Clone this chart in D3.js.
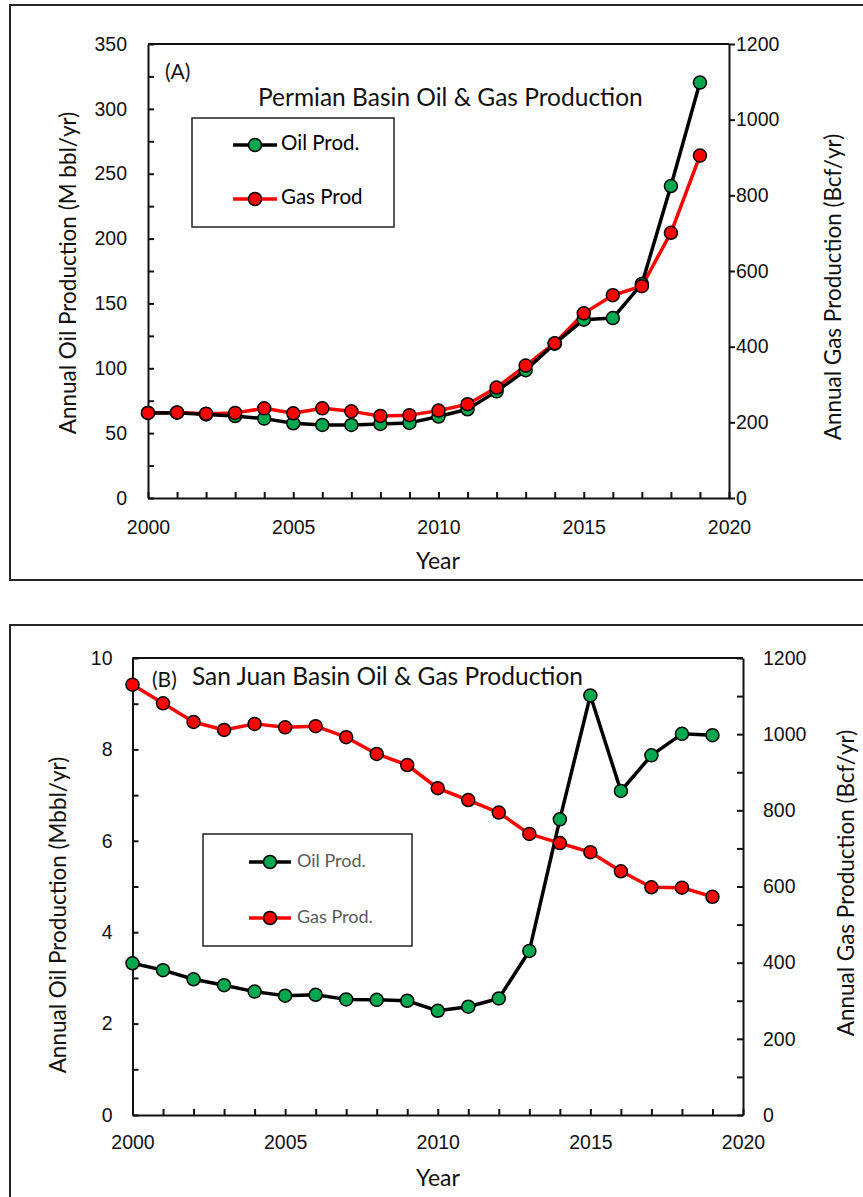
<!DOCTYPE html>
<html>
<head>
<meta charset="utf-8">
<script src="https://cdn.jsdelivr.net/npm/d3@7"></script>
<style>
  html, body { margin: 0; padding: 0; background: #fff; }
  svg { display: block; font-family: Lato, "Open Sans", sans-serif; }
</style>
</head>
<body>
<svg id="chart" width="863" height="1197"></svg>
<script>
// data
const years = [2000, 2001, 2002, 2003, 2004, 2005, 2006, 2007, 2008, 2009,
               2010, 2011, 2012, 2013, 2014, 2015, 2016, 2017, 2018, 2019];

const permianOil = [65.6, 65.8, 64.4, 63.2, 61.2, 57.6, 56.3, 56.3, 57.1, 57.9,
                    62.8, 68.4, 82.2, 98.5, 119, 137.5, 138.7, 165, 240.5, 320.3];
const permianGas = [225, 226, 223, 225, 237, 224, 237, 229, 217, 219,
                    231, 248, 292, 350, 409, 488, 536, 560, 701, 905];

const sanJuanOil = [3.32, 3.17, 2.97, 2.84, 2.70, 2.61, 2.63, 2.53, 2.52, 2.50,
                    2.28, 2.37, 2.55, 3.59, 6.47, 9.18, 7.09, 7.87, 8.34, 8.31];
const sanJuanGas = [1130, 1081, 1032, 1011, 1027, 1018, 1021, 992, 948, 919,
                    858, 827, 794, 738, 714, 690, 640, 598, 597, 573];

const yearTicks = [2000, 2005, 2010, 2015, 2020];
const permianOilTicks = [0, 50, 100, 150, 200, 250, 300, 350];
const permianOilMinor = [0, 25, 50, 75, 100, 125, 150, 175, 200, 225, 250, 275, 300, 325, 350];
const permianGasTicks = [0, 200, 400, 600, 800, 1000, 1200];
const sanJuanOilTicks = [0, 2, 4, 6, 8, 10];
const sanJuanOilMinor = [0, 1, 2, 3, 4, 5, 6, 7, 8, 9, 10];
const sanJuanGasTicks = [0, 200, 400, 600, 800, 1000, 1200];
const sanJuanGasMinor = [0, 100, 200, 300, 400, 500, 600, 700, 800, 900, 1000, 1100, 1200];

const GREEN = "#00a84f";
const RED = "#ff0000";
const INK = "#111";

const svg = d3.select("#chart");

// outer frames (right / bottom edges run off the page)
svg.append("rect").attr("x", 10).attr("y", 5).attr("width", 900).attr("height", 575)
  .attr("fill", "none").attr("stroke", "#262626").attr("stroke-width", 2);
svg.append("rect").attr("x", 10).attr("y", 625).attr("width", 900).attr("height", 700)
  .attr("fill", "none").attr("stroke", "#262626").attr("stroke-width", 2);

function styleAxis(g) {
  g.selectAll("path, line").attr("stroke", INK).attr("stroke-width", 2);
  g.selectAll("text").attr("fill", INK).style("font-size", "19.5px");
}

function panel(p) {
  const x = d3.scaleLinear().domain([2000, 2020]).range([p.left, p.right]);
  const yL = d3.scaleLinear().domain(p.oilDomain).range([p.bottom, p.top]);
  const yR = d3.scaleLinear().domain(p.gasDomain).range([p.bottom, p.top]);
  const fmt = d3.format("d");

  // plot box top edge
  svg.append("line")
    .attr("x1", p.left).attr("x2", p.right).attr("y1", p.top).attr("y2", p.top)
    .attr("stroke", INK).attr("stroke-width", 2);

  // x axis: inward ticks every year, labels every 5
  svg.append("g").attr("transform", `translate(0,${p.bottom})`)
    .call(d3.axisBottom(x).tickValues(years.concat([2020])).tickSize(-6).tickFormat("").tickSizeOuter(0))
    .call(styleAxis);
  svg.append("g").attr("transform", `translate(0,${p.bottom})`)
    .call(d3.axisBottom(x).tickValues(yearTicks).tickSize(0).tickPadding(p.xPad).tickFormat(fmt))
    .call(g => g.select(".domain").remove())
    .call(styleAxis);

  // left axis
  svg.append("g").attr("transform", `translate(${p.left},0)`)
    .call(d3.axisLeft(yL).tickValues(p.oilMinor).tickSize(-6).tickFormat("").tickSizeOuter(0))
    .call(styleAxis);
  svg.append("g").attr("transform", `translate(${p.left},0)`)
    .call(d3.axisLeft(yL).tickValues(p.oilTicks).tickSize(0).tickPadding(p.lPad).tickFormat(fmt))
    .call(g => g.select(".domain").remove())
    .call(styleAxis);

  // right axis
  svg.append("g").attr("transform", `translate(${p.right},0)`)
    .call(d3.axisRight(yR).tickValues(p.gasMinor).tickSize(p.rTick).tickFormat("").tickSizeOuter(0))
    .call(styleAxis);
  svg.append("g").attr("transform", `translate(${p.right},0)`)
    .call(d3.axisRight(yR).tickValues(p.gasTicks).tickSize(0).tickPadding(p.rPad).tickFormat(fmt))
    .call(g => g.select(".domain").remove())
    .call(styleAxis);

  // titles
  svg.append("text").attr("transform", `translate(${p.yLabelL[0]},${p.yLabelL[1]}) rotate(-90)`)
    .attr("text-anchor", "middle").attr("dominant-baseline", "middle")
    .style("font-size", "22.5px").attr("fill", INK).text(p.oilLabel);
  svg.append("text").attr("transform", `translate(${p.yLabelR[0]},${p.yLabelR[1]}) rotate(-90)`)
    .attr("text-anchor", "middle").attr("dominant-baseline", "middle")
    .style("font-size", "22.5px").attr("fill", INK).text(p.gasLabel);
  svg.append("text").attr("x", p.yearPos[0]).attr("y", p.yearPos[1])
    .attr("text-anchor", "middle").attr("dominant-baseline", "middle")
    .style("font-size", "23px").attr("fill", INK).text("Year");
  svg.append("text").attr("x", p.tagPos[0]).attr("y", p.tagPos[1])
    .attr("dominant-baseline", "middle").style("font-size", "21px").attr("fill", INK).text(p.tag);
  svg.append("text").attr("x", p.titlePos[0]).attr("y", p.titlePos[1])
    .attr("dominant-baseline", "middle").style("font-size", "24.5px").attr("fill", INK).text(p.title);

  // series
  const oilPts = years.map((yr, i) => [x(yr), yL(p.oil[i])]);
  const gasPts = years.map((yr, i) => [x(yr), yR(p.gas[i])]);
  const line = d3.line();

  svg.append("path").attr("d", line(gasPts)).attr("fill", "none")
    .attr("stroke", RED).attr("stroke-width", 3.5).attr("stroke-linejoin", "round");
  svg.append("path").attr("d", line(oilPts)).attr("fill", "none")
    .attr("stroke", "#000").attr("stroke-width", 3.5).attr("stroke-linejoin", "round");

  svg.append("g").selectAll("circle").data(oilPts).join("circle")
    .attr("cx", d => d[0]).attr("cy", d => d[1]).attr("r", 6.5)
    .attr("fill", GREEN).attr("stroke", "#000").attr("stroke-width", 1.5);
  svg.append("g").selectAll("circle").data(gasPts).join("circle")
    .attr("cx", d => d[0]).attr("cy", d => d[1]).attr("r", 6.5)
    .attr("fill", RED).attr("stroke", "#000").attr("stroke-width", 1.5);

  // legend
  const lg = p.legend;
  svg.append("rect").attr("x", lg.x).attr("y", lg.y).attr("width", lg.w).attr("height", lg.h)
    .attr("fill", "#fff").attr("stroke", "#222").attr("stroke-width", 1.5);
  const items = [
    { name: lg.names[0], stroke: "#000", fill: GREEN, y: lg.y1 },
    { name: lg.names[1], stroke: RED, fill: RED, y: lg.y2 }
  ];
  const li = svg.append("g").selectAll("g").data(items).join("g")
    .attr("transform", d => `translate(0,${d.y})`);
  li.append("line").attr("x1", lg.lx0).attr("x2", lg.lx1)
    .attr("stroke", d => d.stroke).attr("stroke-width", 3.5);
  li.append("circle").attr("cx", (lg.lx0 + lg.lx1) / 2).attr("r", 6.5)
    .attr("fill", d => d.fill).attr("stroke", "#000").attr("stroke-width", 1.5);
  li.append("text").attr("x", lg.tx).attr("dominant-baseline", "middle")
    .style("font-size", lg.fs).attr("fill", lg.color).text(d => d.name);
}

panel({
  left: 148, right: 729, top: 44, bottom: 498,
  oilDomain: [0, 350], gasDomain: [0, 1200],
  oilTicks: permianOilTicks, oilMinor: permianOilMinor,
  gasTicks: permianGasTicks, gasMinor: permianGasTicks,
  rTick: 6, rPad: 7, lPad: 21, xPad: 22,
  oil: permianOil, gas: permianGas,
  oilLabel: "Annual Oil Production (M bbl/yr)",
  gasLabel: "Annual Gas Production (Bcf/yr)",
  yLabelL: [70, 273], yLabelR: [835, 287], yearPos: [438, 563],
  tag: "(A)", tagPos: [165, 74],
  title: "Permian Basin Oil & Gas Production", titlePos: [258, 100],
  legend: { x: 192, y: 118, w: 202, h: 109, y1: 145, y2: 199, lx0: 233, lx1: 277, tx: 281,
            fs: "20.5px", color: "#000", names: ["Oil Prod.", "Gas Prod"] }
});

panel({
  left: 132.5, right: 743, top: 658, bottom: 1115,
  oilDomain: [0, 10], gasDomain: [0, 1200],
  oilTicks: sanJuanOilTicks, oilMinor: sanJuanOilMinor,
  gasTicks: sanJuanGasTicks, gasMinor: sanJuanGasMinor,
  rTick: -6, rPad: 20, lPad: 20, xPad: 20,
  oil: sanJuanOil, gas: sanJuanGas,
  oilLabel: "Annual Oil Production (Mbbl/yr)",
  gasLabel: "Annual Gas Production (Bcf/yr)",
  yLabelL: [60, 915], yLabelR: [848, 883], yearPos: [438, 1180],
  tag: "(B)", tagPos: [152, 682],
  title: "San Juan Basin Oil & Gas Production", titlePos: [192, 679],
  legend: { x: 203, y: 834, w: 209, h: 112, y1: 862, y2: 918, lx0: 249, lx1: 291, tx: 297,
            fs: "18px", color: "#595959", names: ["Oil Prod.", "Gas Prod."] }
});
</script>
</body>
</html>
